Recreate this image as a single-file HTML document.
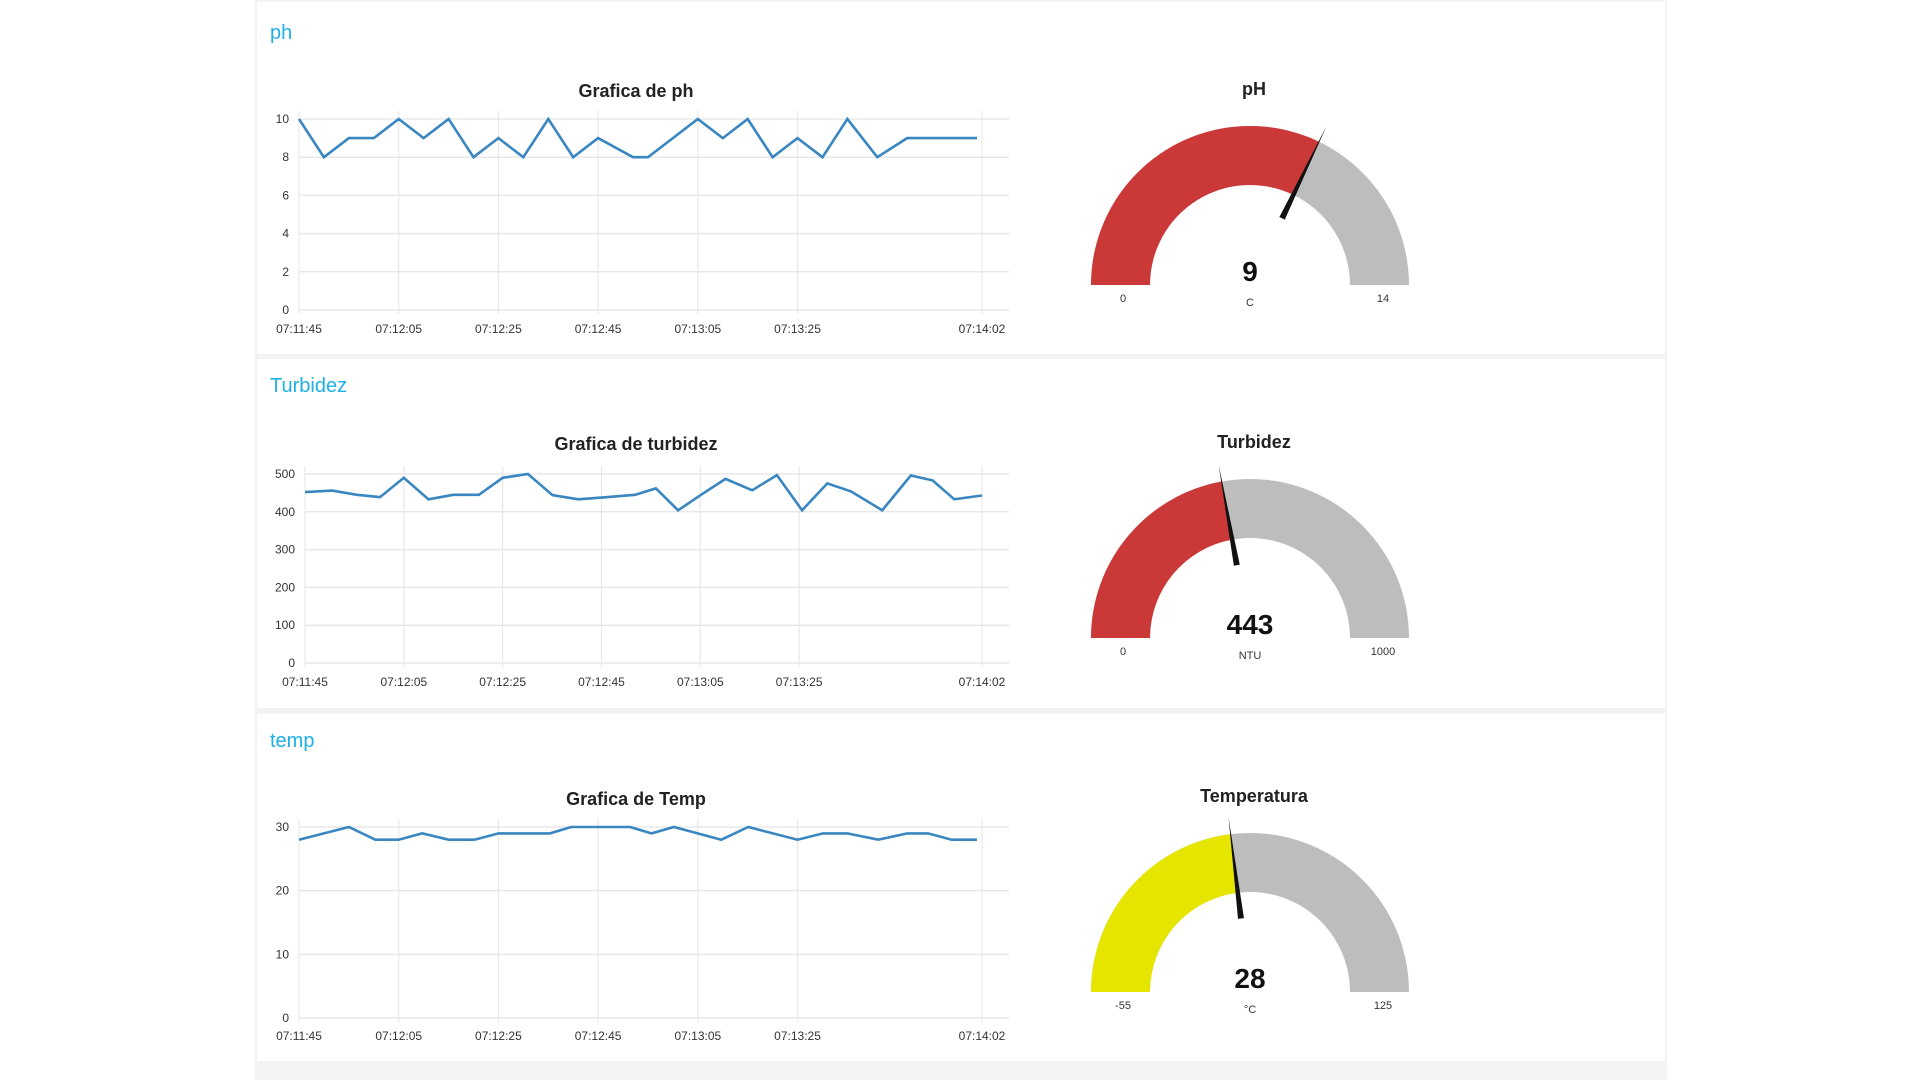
<!DOCTYPE html>
<html><head><meta charset="utf-8"><style>
html,body{margin:0;padding:0;width:1920px;height:1080px;background:#fff;overflow:hidden;font-family:"Liberation Sans",sans-serif}
svg{display:block}
</style></head><body>
<svg id="root" width="1920" height="1080" viewBox="0 0 1920 1080">
<rect x="255" y="0" width="1412" height="1080" fill="#f3f3f3"/>
<rect x="257" y="2" width="1408" height="352" fill="#fff"/>
<rect x="257" y="359" width="1408" height="349" fill="#fff"/>
<rect x="257" y="714" width="1408" height="347" fill="#fff"/>
<text x="270" y="39" font-size="20" fill="#1eb0e6">ph</text>
<text x="270" y="392" font-size="20" fill="#1eb0e6">Turbidez</text>
<text x="270" y="747" font-size="20" fill="#1eb0e6">temp</text>
<g id="charts"></g>
</svg>
<script>
// pH chart data (seconds after 07:11:45)
const phTimes = [0,5,10,15,20,25,30,35,40,45,50,55,60,67,70,75,80,85,90,95,100,105,110,116,122,136];
const phValues = [10,8,9,9,10,9,10,8,9,8,10,8,9,8,8,9,10,9,10,8,9,8,10,8,9,9];
const phTicks = [0,2,4,6,8,10];
// Turbidez chart data
const turbTimes = [0,5.5,10.5,15.2,20,25,30,35.2,40,45.1,50.1,55.3,60.3,66.8,71,75.5,80.6,85.1,90.5,95.5,100.6,105.7,110.5,116.8,122.6,127,131.4,137];
const turbValues = [452,456,445,439,490,433,445,445,490,500,444,433,438,445,462,404,449,487,457,497,404,475,454,404,496,483,433,443];
const turbTicks = [0,100,200,300,400,500];
// Temp chart data
const tempTimes = [0,10,15.3,20,24.7,30,35.2,40,50.3,54.6,66.4,70.7,75.2,84.7,90.1,100,105.1,110,116.2,122,126.2,130.9,136];
const tempValues = [28,30,28,28,29,28,28,29,29,30,30,29,30,28,30,28,29,29,28,29,29,28,28];
const tempTicks = [0,10,20,30];
// shared time axis
const timeTicks = [0,20,40,60,80,100,137];
const timeLabels = ["07:11:45","07:12:05","07:12:25","07:12:45","07:13:05","07:13:25","07:14:02"];
// gauge data
const gaugeTitles = ["pH","Turbidez","Temperatura"];
const gaugeValues = [9,443,28];
const gaugeMins = [0,0,-55];
const gaugeMaxs = [14,1000,125];
const gaugeUnits = ["C","NTU","°C"];

const NS="http://www.w3.org/2000/svg";
const root=document.getElementById('charts');
function mk(tag,attrs,parent){const e=document.createElementNS(NS,tag);for(const k in attrs)e.setAttribute(k,attrs[k]);(parent||root).appendChild(e);return e;}

function chart(cfg,times,values,ticks,yMax,name){
  const g=mk('g',{});
  
  
  const xs=t=>cfg.x0+t*(cfg.x1-cfg.x0)/137;
  const ys=v=>cfg.y0-v*(cfg.y0-cfg.yTop)/yMax;
  const t=mk('text',{x:636,y:cfg.titleY,'text-anchor':'middle','font-size':18,'font-weight':'bold',fill:'#222'},g);
  t.textContent=cfg.title;
  
  
  ticks.forEach(v=>{
    const l=mk('line',{x1:cfg.x0,x2:1009,y1:ys(v),y2:ys(v),stroke:'#e8e8e8','stroke-width':1.5},g);
    
    
    const tx=mk('text',{x:cfg.x0-10,y:ys(v)+4,'text-anchor':'end','font-size':12,fill:'#333'},g);
    tx.textContent=v;
    
    
  });
  timeTicks.forEach((tt,i)=>{
    const l=mk('line',{x1:xs(tt),x2:xs(tt),y1:cfg.yTop-8,y2:cfg.y0+4,stroke:'#e8e8e8','stroke-width':1.2},g);
    
    
    const tx=mk('text',{x:xs(tt),y:cfg.labelY,'text-anchor':'middle','font-size':12,fill:'#333'},g);
    tx.textContent=timeLabels[i];
    
    
  });
  const pts=times.map((tt,i)=>xs(tt).toFixed(1)+','+ys(values[i]).toFixed(1)).join(' ');
  const pl=mk('polyline',{points:pts,fill:'none',stroke:'#3a86c0','stroke-width':2.6,'stroke-linejoin':'miter'},g);
  
  
}
chart({x0:299,x1:982,y0:310,yTop:119,labelY:333,titleY:97,title:'Grafica de ph'},phTimes,phValues,phTicks,10,'ph');
chart({x0:305,x1:982,y0:663,yTop:474,labelY:686,titleY:450,title:'Grafica de turbidez'},turbTimes,turbValues,turbTicks,500,'turbidez');
chart({x0:299,x1:982,y0:1018,yTop:827,labelY:1040,titleY:805,title:'Grafica de Temp'},tempTimes,tempValues,tempTicks,30,'temp');

const gaugeCY=[285,638,992];
const gaugeTitleY=[95,448,802];
const gaugeColors=['#cb3838','#cb3838','#e5e500'];
const gaugeNames=['ph','turbidez','temp'];
function arcPath(cx,cy,R,r,a0,a1){
  const p=(rad,a)=>[cx-rad*Math.cos(a),cy-rad*Math.sin(a)];
  const [x0,y0]=p(R,a0),[x1,y1]=p(R,a1),[x2,y2]=p(r,a1),[x3,y3]=p(r,a0);
  return `M${x0},${y0} A${R},${R} 0 0 1 ${x1},${y1} L${x2},${y2} A${r},${r} 0 0 0 ${x3},${y3} Z`;
}
gaugeValues.forEach((v,i)=>{
  const cx=1250,cy=gaugeCY[i],R=159,r=100,n=gaugeNames[i];
  const g=mk('g',{});
  
  
  const f=(v-gaugeMins[i])/(gaugeMaxs[i]-gaugeMins[i]);
  const a=f*Math.PI;
  const bg=mk('path',{d:arcPath(cx,cy,R,r,0,Math.PI),fill:'#bdbdbd'},g);
  
  
  const fg=mk('path',{d:arcPath(cx,cy,R,r,0,a),fill:gaugeColors[i]},g);
  
  
  const dx=-Math.cos(a),dy=-Math.sin(a),px=-dy,py=dx;
  const b=74,tp=176;
  const nd=mk('polygon',{points:`${cx+dx*b+px*3},${cy+dy*b+py*3} ${cx+dx*b-px*3},${cy+dy*b-py*3} ${cx+dx*tp},${cy+dy*tp}`,fill:'#111'},g);
  
  
  const tt=mk('text',{x:cx+4,y:gaugeTitleY[i],'text-anchor':'middle','font-size':18,'font-weight':'bold',fill:'#222'},g);
  tt.textContent=gaugeTitles[i];
  
  
  const vt=mk('text',{x:cx,y:cy-4,'text-anchor':'middle','font-size':28,'font-weight':'bold',fill:'#111'},g);
  vt.textContent=v;
  
  
  const ut=mk('text',{x:cx,y:cy+21,'text-anchor':'middle','font-size':11,fill:'#333'},g);
  ut.textContent=gaugeUnits[i];
  
  
  const mn=mk('text',{x:cx-R+32,y:cy+17,'text-anchor':'middle','font-size':11,fill:'#333'},g);
  mn.textContent=gaugeMins[i];
  
  
  const mx=mk('text',{x:cx+R-26,y:cy+17,'text-anchor':'middle','font-size':11,fill:'#333'},g);
  mx.textContent=gaugeMaxs[i];
  
  
});
</script>
</body></html>
